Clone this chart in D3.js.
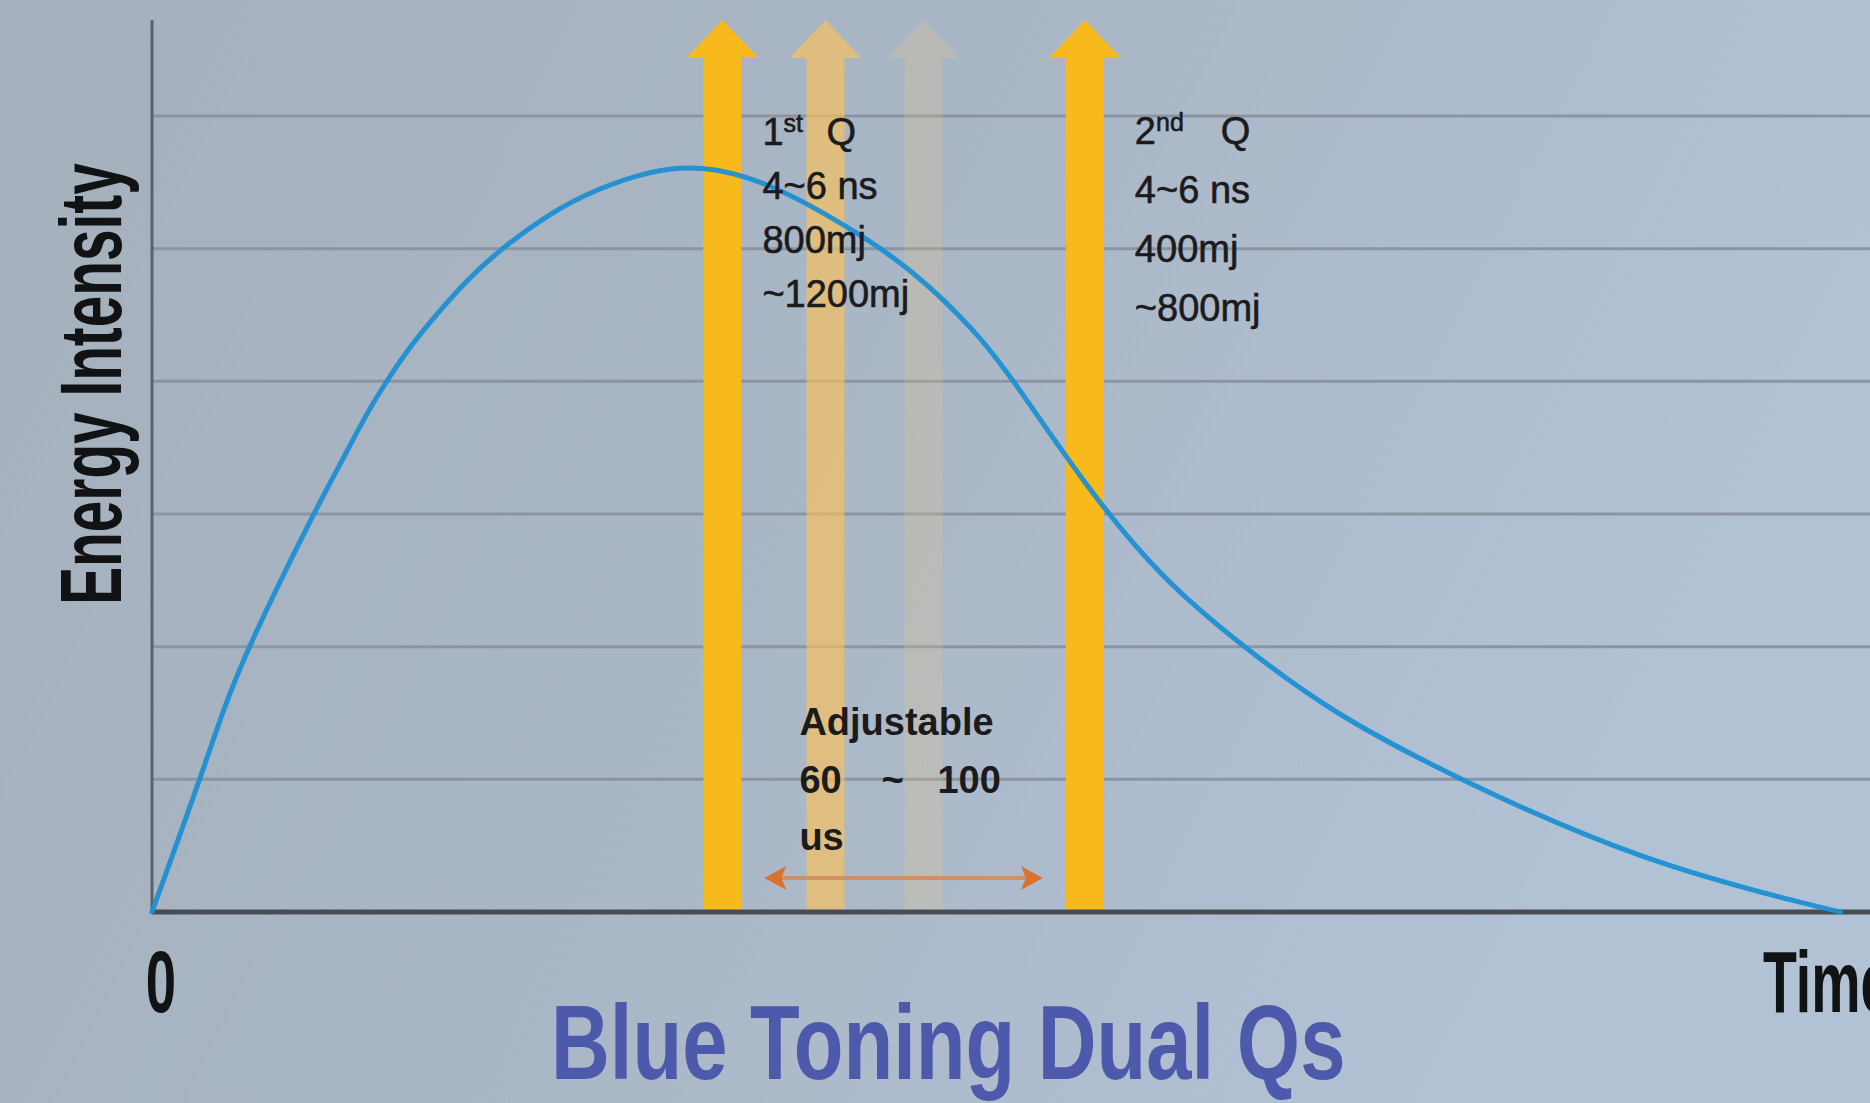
<!DOCTYPE html>
<html>
<head>
<meta charset="utf-8">
<script src="https://cdn.jsdelivr.net/npm/d3@7"></script>
<style>
  html, body { margin: 0; padding: 0; overflow: hidden; background: #a9b5c3; }
</style>
</head>
<body>
<div id="chart"></div>
<script>
// energy curve (time in arbitrary units, energy in grid steps)
var timeValues   = [0, 2.8, 4.1, 5.6, 9.3, 11.1, 12.5, 13.7, 15.0, 16.6, 18.3, 20.4, 23.2, 25.7, 29.0, 31.9, 35.6, 40.5, 44.3, 48.1, 50.3, 54.4, 58.7, 63.5, 68.7, 76.0, 86.7, 97.2, 98.3];
var energyValues = [0, 1.0, 1.51, 2.0, 2.98, 3.41, 3.76, 4.01, 4.26, 4.51, 4.76, 5.01, 5.27, 5.44, 5.59, 5.63, 5.52, 5.17, 4.84, 4.36, 3.98, 3.2, 2.52, 2.0, 1.5, 1.0, 0.38, 0.03, 0];

var gridLevels = [1, 2, 3, 4, 5, 6];

// Q-switch pulses: 1st Q, two faded delay positions, 2nd Q
var pulseTimes = [33.2, 39.2, 44.9, 54.3];

var firstQLines  = ['4~6 ns', '800mj', '~1200mj'];
var secondQLines = ['4~6 ns', '400mj', '~800mj'];
var delayLines   = ['Adjustable', '60', '~', '100', 'us'];

var width = 1870;
var height = 1103;
var plotTop = 20;

var svg = d3.select('#chart')
    .append('svg')
    .attr('width', width)
    .attr('height', height);

// background
var defs = svg.append('defs');
var grad = defs.append('linearGradient')
    .attr('id', 'bg')
    .attr('x1', 0).attr('y1', 0).attr('x2', 1).attr('y2', 0.3);
grad.append('stop').attr('offset', '0%').attr('stop-color', '#a5b0bc');
grad.append('stop').attr('offset', '50%').attr('stop-color', '#a9b6c5');
grad.append('stop').attr('offset', '100%').attr('stop-color', '#b2c2d5');

svg.append('rect')
    .attr('width', width)
    .attr('height', height)
    .attr('fill', 'url(#bg)');

var xScale = d3.scaleLinear()
    .domain([0, 100])
    .range([152, 1870]);

var yScale = d3.scaleLinear()
    .domain([0, 6])
    .range([912, 116]);

// grid lines
svg.append('g')
    .selectAll('line')
    .data(gridLevels)
    .enter()
    .append('line')
    .attr('x1', xScale(0))
    .attr('x2', xScale(100))
    .attr('y1', (d) => yScale(d))
    .attr('y2', (d) => yScale(d))
    .attr('stroke', '#8b95a1')
    .attr('stroke-width', 3);

// pulses (arrows)
var shaftW = 38, headW = 72, headH = 38;
var pulseFill = ['#f7b91c', '#ffc254', '#f0c77e', '#f7b91c'];
var pulseOpacity = [1, 0.62, 0.22, 1];

svg.append('g')
    .selectAll('path')
    .data(pulseTimes)
    .enter()
    .append('path')
    .attr('d', function (d) {
        var cx = xScale(d);
        var b = yScale(0);
        var h = plotTop + headH;
        return 'M' + (cx - shaftW / 2) + ',' + b +
            'L' + (cx - shaftW / 2) + ',' + h +
            'L' + (cx - headW / 2) + ',' + h +
            'L' + cx + ',' + plotTop +
            'L' + (cx + headW / 2) + ',' + h +
            'L' + (cx + shaftW / 2) + ',' + h +
            'L' + (cx + shaftW / 2) + ',' + b + 'Z';
    })
    .attr('fill', (d, i) => pulseFill[i])
    .attr('opacity', (d, i) => pulseOpacity[i]);

// axes
svg.append('line')
    .attr('x1', xScale(0)).attr('x2', xScale(0))
    .attr('y1', plotTop).attr('y2', yScale(0))
    .attr('stroke', '#5b626b')
    .attr('stroke-width', 3);

svg.append('line')
    .attr('x1', xScale(0)).attr('x2', xScale(100))
    .attr('y1', yScale(0)).attr('y2', yScale(0))
    .attr('stroke', '#484d55')
    .attr('stroke-width', 5);

// energy curve
var curveData = timeValues.map((t, i) => ({ t: t, e: energyValues[i] }));
var line = d3.line()
    .x((d) => xScale(d.t))
    .y((d) => yScale(d.e))
    .curve(d3.curveBasis);

svg.append('path')
    .datum(curveData)
    .attr('d', line)
    .attr('fill', 'none')
    .attr('stroke', '#1e8fd3')
    .attr('stroke-width', 5)
    .attr('stroke-linecap', 'round')
    .attr('opacity', 0.95);

// adjustable delay double arrow
var arrowY = yScale(0) - 34;
var ax1 = xScale(pulseTimes[0]) + shaftW / 2 + 23;
var ax2 = xScale(pulseTimes[3]) - shaftW / 2 - 23;
svg.append('line')
    .attr('x1', ax1 + 12).attr('x2', ax2 - 12)
    .attr('y1', arrowY).attr('y2', arrowY)
    .attr('stroke', '#cf8a5c')
    .attr('stroke-width', 4)
    .attr('opacity', 0.85);
svg.append('path')
    .attr('d', 'M' + ax1 + ',' + arrowY + 'l22,-12l-5,12l5,12Z')
    .attr('fill', '#d9732f');
svg.append('path')
    .attr('d', 'M' + ax2 + ',' + arrowY + 'l-22,-12l5,12l-5,12Z')
    .attr('fill', '#d9732f');

// pulse labels
var labelFont = '"Liberation Sans", Arial, sans-serif';

function qBlock(x, y0, step, num, sup, supW, lines) {
    var t = svg.append('text')
        .attr('x', x).attr('y', y0)
        .attr('font-family', labelFont)
        .attr('font-size', 38)
        .attr('fill', '#1b1b1d')
        .attr('stroke', '#1b1b1d')
        .attr('stroke-width', 0.6);
    t.append('tspan').text(num);
    t.append('tspan').attr('font-size', 25).attr('dy', -13).text(sup);
    t.append('tspan').attr('x', x + supW).attr('dy', 13).text('Q');

    svg.append('g')
        .selectAll('text')
        .data(lines)
        .enter()
        .append('text')
        .attr('x', x)
        .attr('y', (d, i) => y0 + step * (i + 1))
        .attr('font-family', labelFont)
        .attr('font-size', 38)
        .attr('fill', '#1b1b1d')
        .attr('stroke', '#1b1b1d')
        .attr('stroke-width', 0.6)
        .text((d) => d);
}

qBlock(xScale(pulseTimes[0]) + 40, 145, 54, '1', 'st', 64, firstQLines);
qBlock(xScale(pulseTimes[3]) + 50, 144, 59, '2', 'nd', 86, secondQLines);

// adjustable delay text
var dx = ax1 + 35;
var delayText = svg.append('g')
    .attr('font-family', labelFont)
    .attr('font-size', 38)
    .attr('font-weight', 'bold')
    .attr('fill', '#1b1b1d');
delayText.append('text').attr('x', dx).attr('y', 735).text(delayLines[0]);
delayText.append('text').attr('x', dx).attr('y', 793).text(delayLines[1]);
delayText.append('text').attr('x', dx + 82).attr('y', 793).text(delayLines[2]);
delayText.append('text').attr('x', dx + 138).attr('y', 793).text(delayLines[3]);
delayText.append('text').attr('x', dx).attr('y', 850).text(delayLines[4]);

// condensed headline texts
var headFont = '"Liberation Sans", Arial, sans-serif';

svg.append('text')
    .attr('transform', 'translate(121,384) rotate(-90) scale(0.645,1)')
    .attr('text-anchor', 'middle')
    .attr('font-family', headFont)
    .attr('font-weight', 'bold')
    .attr('font-size', 88)
    .attr('fill', '#111214')
    .text('Energy Intensity');

svg.append('text')
    .attr('transform', 'translate(' + (xScale(0) + 9) + ',1012) scale(0.62,1)')
    .attr('text-anchor', 'middle')
    .attr('font-family', headFont)
    .attr('font-weight', 'bold')
    .attr('font-size', 88)
    .attr('fill', '#111214')
    .text('0');

svg.append('text')
    .attr('transform', 'translate(1763,1012) scale(0.63,1)')
    .attr('font-family', headFont)
    .attr('font-weight', 'bold')
    .attr('font-size', 88)
    .attr('fill', '#111214')
    .text('Time');

svg.append('text')
    .attr('transform', 'translate(551,1079) scale(0.768,1)')
    .attr('font-family', headFont)
    .attr('font-weight', 'bold')
    .attr('font-size', 106)
    .attr('fill', '#4d59aa')
    .text('Blue Toning Dual Qs');
</script>
</body>
</html>
